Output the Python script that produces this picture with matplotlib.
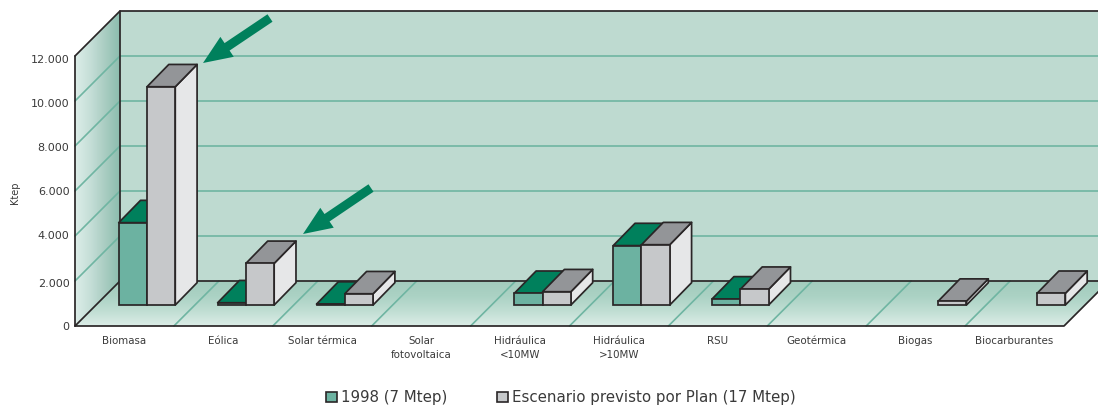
import numpy as np
import matplotlib
matplotlib.use("Agg")
import matplotlib.pyplot as plt
from matplotlib.colors import LinearSegmentedColormap
from matplotlib.patches import Polygon, Patch
from matplotlib.transforms import ScaledTranslation

categories = ["Biomasa", "Eólica", "Solar térmica", "Solar\nfotovoltaica", "Hidráulica\n<10MW",
              "Hidráulica\n>10MW", "RSU", "Geotérmica", "Biogas", "Biocarburantes"]
values_1998 = [3660, 100, 40, 0, 520, 2640, 270, 0, 0, 0]
values_plan = [9700, 1850, 500, 0, 590, 2680, 700, 0, 170, 520]
y_ticks = [0, 2000, 4000, 6000, 8000, 10000, 12000]
y_tick_labels = ["0", "2.000", "4.000", "6.000", "8.000", "10.000", "12.000"]
series_names = ["1998 (7 Mtep)", "Escenario previsto por Plan (17 Mtep)"]

W, H = 1098, 405
plt.rcParams["font.family"] = ["DejaVu Sans"]
fig = plt.figure(figsize=(W / 100, H / 100), dpi=100, facecolor="white")
L, R, T, B = 75, 1064, 56, 326
ax = fig.add_axes([L / W, (H - B) / H, (R - L) / W, (B - T) / H])
ax.set_xlim(0, 10)
ax.set_ylim(0, 12000)
for s in ax.spines.values():
    s.set_visible(False)
ax.patch.set_visible(False)

XU, YU = (R - L) / 10, (B - T) / 12000


def P(px, py):
    return ((px - L) / XU, (B - py) / YU)


INK = "#2a2627"
GRID = "#6fb5a2"
WALL = "#bedad0"
F1998, TOP1998, SIDE1998 = "#6cb2a1", "#00805c", "#00805c"
FPLAN, TOPPLAN, SIDEPLAN = "#c6c8ca", "#939598", "#e6e7e8"
LW = 1.25

DX, DY = 45 / XU, 2000          # wall depth in axis units
BDX, BDY = 21.8 / XU, 22.3 / YU  # bar depth
BASE = 21 / YU                  # bar base above front edge
LEFT = 0.442
BW = 0.286


def poly(pts, **kw):
    kw.setdefault("clip_on", False)
    p = Polygon(pts, closed=True, **kw)
    ax.add_patch(p)
    return p


def line(xs, ys, color=INK, lw=LW, z=3):
    ax.plot(xs, ys, color=color, lw=lw, clip_on=False, zorder=z, solid_capstyle="round")


def gradient(pts, colors, horizontal):
    xs = [p[0] for p in pts]
    ys = [p[1] for p in pts]
    g = np.linspace(0, 1, 128)
    arr = g[None, :] if horizontal else g[:, None]
    cm = LinearSegmentedColormap.from_list("g", colors)
    im = ax.imshow(arr, cmap=cm, extent=[min(xs), max(xs), min(ys), max(ys)], origin="lower",
                   aspect="auto", zorder=1, interpolation="bilinear")
    clip = Polygon(pts, closed=True, transform=ax.transData)
    im.set_clip_path(clip)
    im.set_clip_box(fig.bbox)


# back wall
poly([(DX, DY), (10 + DX, DY), (10 + DX, 14000), (DX, 14000)], facecolor=WALL, edgecolor="none", zorder=0.5)
# left wall and floor gradients
gradient([(0, 0), (DX, DY), (DX, 14000), (0, 12000)], ["#dcede8", "#c6dfd8", "#aacdc2", "#8cbdae"], True)
gradient([(0, 0), (10, 0), (10 + DX, DY), (DX, DY)], ["#dcede7", "#c0ded3", "#abd2c4", "#a3cbbd"], False)
ax.set_xlim(0, 10)
ax.set_ylim(0, 12000)
ax.set_aspect("auto")

# grid lines on walls and floor
for v in y_ticks[1:-1]:
    line([0, DX, 10 + DX], [v, v + DY, v + DY], color=GRID, lw=1.2, z=2)
for i in range(1, 10):
    line([i, i + DX], [0, DY], color=GRID, lw=1.2, z=2)

# frame
line([DX, DX], [DY, 14000])
line([0, 0], [0, 12000])
line([0, DX, 10 + DX], [12000, 14000, 14000])
line([0, DX, 10 + DX], [0, DY, DY])
line([0, 10, 10 + DX], [0, 0, DY])


# bars, drawn through the axes' own data scale
def bar3d(x, v, front, top, side, z):
    ax.bar(x, v, width=BW, bottom=BASE, align="edge", facecolor=front, edgecolor=INK,
           linewidth=LW, zorder=z + 0.2, clip_on=False)
    y0, y1 = BASE, BASE + v
    poly([(x + BW, y0), (x + BW + BDX, y0 + BDY), (x + BW + BDX, y1 + BDY), (x + BW, y1)],
         facecolor=side, edgecolor=INK, lw=LW, zorder=z, joinstyle="round")
    poly([(x, y1), (x + BW, y1), (x + BW + BDX, y1 + BDY), (x + BDX, y1 + BDY)],
         facecolor=top, edgecolor=INK, lw=LW, zorder=z + 0.1, joinstyle="round")


for i, (a, b) in enumerate(zip(values_1998, values_plan)):
    if a > 0:
        bar3d(i + LEFT, a, F1998, TOP1998, SIDE1998, 4 + i)
    if b > 0:
        bar3d(i + LEFT + BW, b, FPLAN, TOPPLAN, SIDEPLAN, 4.5 + i)


# arrows
def arrow(tail, tip, shaft=9, head=24, head_len=29):
    t, h = np.array(tail, float), np.array(tip, float)
    d = (h - t) / np.linalg.norm(h - t)
    n = np.array([-d[1], d[0]])
    b = h - d * head_len
    pts = [t + n * shaft / 2, b + n * shaft / 2, b + n * head / 2, h,
           b - n * head / 2, b - n * shaft / 2, t - n * shaft / 2]
    poly([P(*p) for p in pts], facecolor="#00805c", edgecolor="none", zorder=30)


arrow((270, 18), (203, 63))
arrow((371, 188), (303, 234))

# axis text
ax.set_yticks(y_ticks)
ax.set_yticklabels(y_tick_labels, fontsize=8, color="#3a3a3a")
ax.set_xticks(np.arange(10) + 0.5)
ax.set_xticklabels(categories, fontsize=7.4, color="#3a3a3a", linespacing=1.45)
ax.tick_params(axis="both", length=0)
ax.tick_params(axis="y", pad=4)
ax.tick_params(axis="x", pad=7.5)
shift = [0, 2, -1, 0, 1, 2, 3]
for lab, s in zip(ax.get_yticklabels(), shift):
    lab.set_transform(lab.get_transform() + ScaledTranslation(0, -s / 100, fig.dpi_scale_trans))
fig.text(15 / W, 1 - 193 / H, "Ktep", rotation=90, ha="center", va="center", fontsize=7, color="#3a3a3a")

# legend
handles = [Patch(facecolor=F1998, edgecolor=INK, lw=1.2), Patch(facecolor=FPLAN, edgecolor=INK, lw=1.2)]
fig.legend(handles, series_names, loc="center", bbox_to_anchor=(561 / W, 1 - 397.5 / H), ncol=2, frameon=False,
           fontsize=10.8, handlelength=0.7, handleheight=0.7, handletextpad=0.3, columnspacing=3.3,
           labelcolor="#3a3a3a", borderpad=0, borderaxespad=0)

fig.savefig("out.png", dpi=100, facecolor="white")
